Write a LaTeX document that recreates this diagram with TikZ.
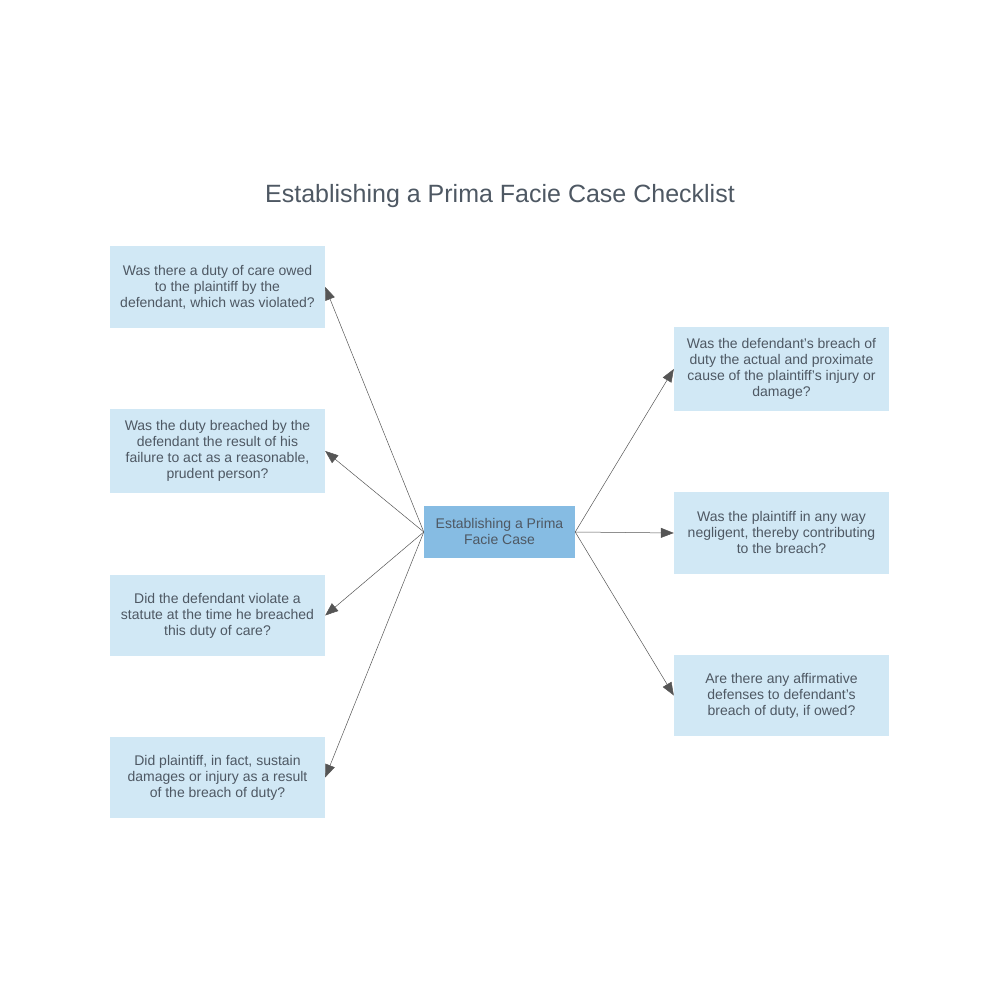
\documentclass[tikz,border=0pt]{standalone}
\usepackage{fontspec}
\setmainfont{Liberation Sans}
\usetikzlibrary{arrows.meta}

\definecolor{qbox}{HTML}{D1E8F5}
\definecolor{hubbox}{HTML}{86BCE3}
\definecolor{qtext}{HTML}{4E5863}
\definecolor{qline}{HTML}{555555}

\tikzset{
  question/.style={fill=qbox, draw=none, minimum width=215pt, minimum height=82pt,
    align=center, text=qtext, font=\fontsize{14}{16}\selectfont, inner sep=2pt},
  hub/.style={fill=hubbox, draw=none, minimum width=151pt, minimum height=52pt,
    align=center, text=qtext, font=\fontsize{14}{16}\selectfont, inner sep=2pt},
  link/.style={draw=qline, line width=0.5pt, -{Triangle[length=13pt,width=10pt,fill=qline]}},
}

\begin{document}
\begin{tikzpicture}[x=1pt,y=1pt]
\useasboundingbox (0,0) rectangle (1000,1000);
\node[text=qtext, font=\fontsize{25}{30}\selectfont] (title) at (500,804) {Establishing a Prima Facie Case Checklist};
\node[hub] (case) at (499.5,468) {Establishing a Prima\\Facie Case};
% left column
\node[question] (duty) at (217.5,713) {Was there a duty of care owed\\to the plaintiff by the\\defendant, which was violated?};
\node[question, minimum height=84pt] (breach) at (217.5,549) {Was the duty breached by the\\defendant the result of his\\failure to act as a reasonable,\\prudent person?};
\node[question, minimum height=81pt] (statute) at (217.5,384.5) {Did the defendant violate a\\statute at the time he breached\\this duty of care?};
\node[question, minimum height=81pt] (damages) at (217.5,222.5) {Did plaintiff, in fact, sustain\\damages or injury as a result\\of the breach of duty?};
% right column
\node[question, minimum height=84pt] (cause) at (781.5,631) {Was the defendant's breach of\\duty the actual and proximate\\cause of the plaintiff's injury or\\damage?};
\node[question] (negligent) at (781.5,467) {Was the plaintiff in any way\\negligent, thereby contributing\\to the breach?};
\node[question, minimum height=81pt] (defenses) at (781.5,304.5) {Are there any affirmative\\defenses to defendant's\\breach of duty, if owed?};
\foreach \q in {duty,breach,statute,damages}
  \draw[link] (case.west) -- (\q.east);
\foreach \q in {cause,negligent,defenses}
  \draw[link] (case.east) -- (\q.west);
\end{tikzpicture}
\end{document}
